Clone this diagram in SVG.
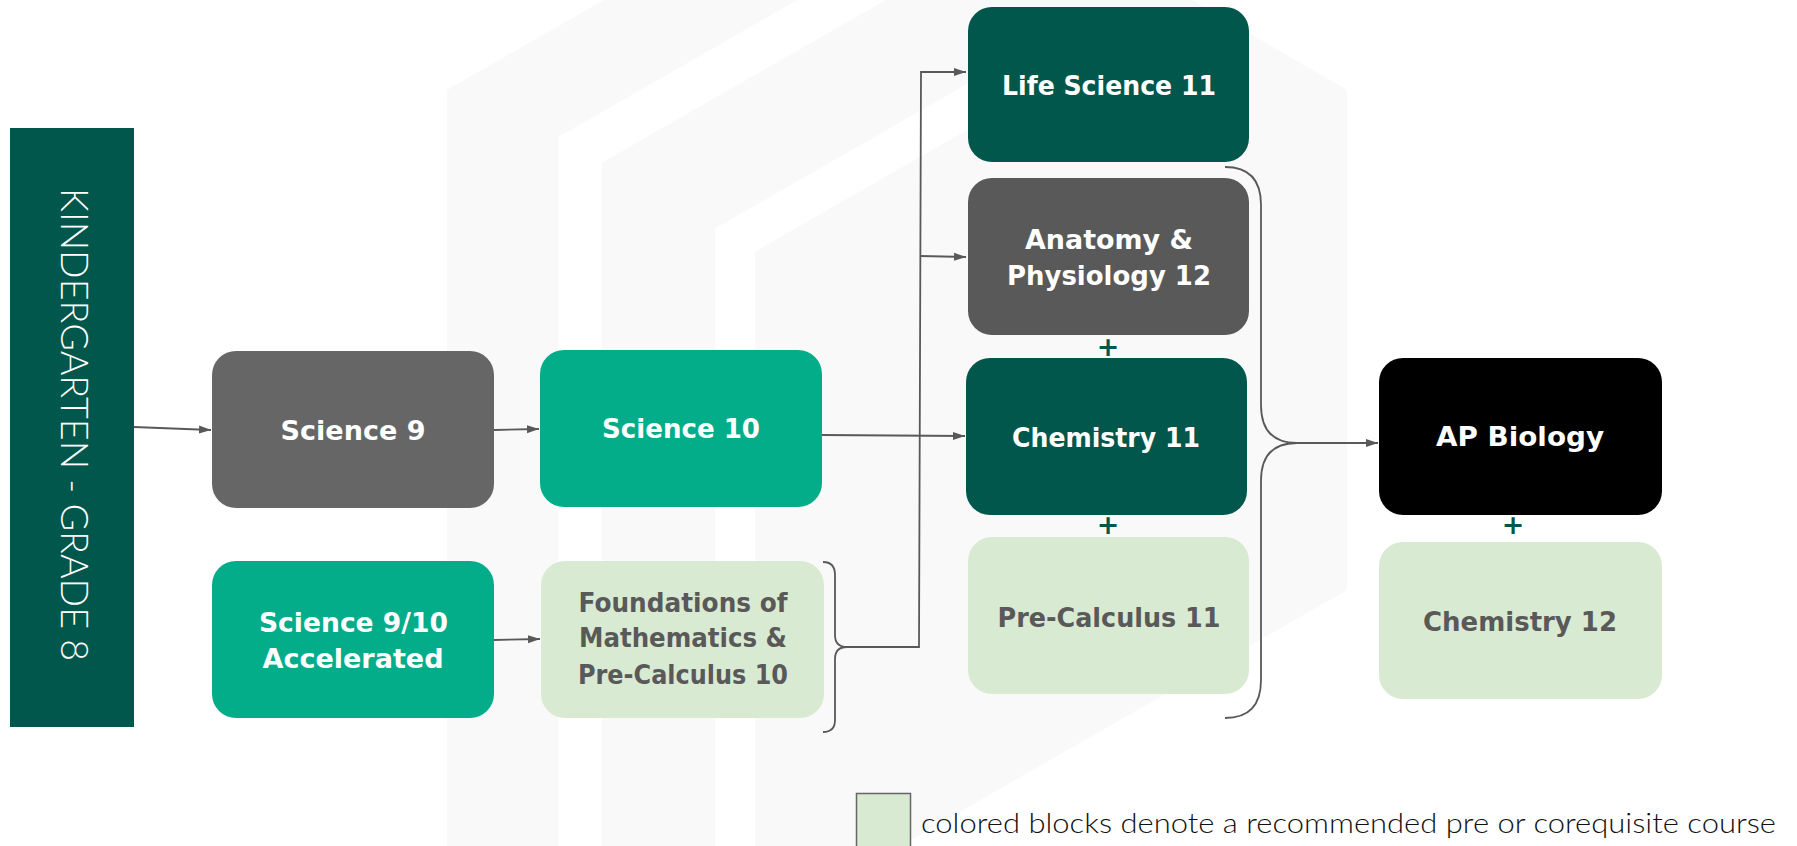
<svg xmlns="http://www.w3.org/2000/svg" width="1797" height="846" viewBox="0 0 1797 846">
<style>
.lbl{font-family:"DejaVu Sans","Liberation Sans",sans-serif;font-weight:bold;font-size:27px;text-anchor:middle}
.w{fill:#ffffff}
.g{fill:#595959}
.plus{font-family:"DejaVu Sans","Liberation Sans",sans-serif;font-weight:bold;font-size:27px;text-anchor:middle;fill:#01574B}
.conn{fill:none;stroke:#595959;stroke-width:1.8}
.thin{font-family:Lato,"Open Sans","Liberation Sans",sans-serif;font-weight:300}
</style>
<defs>
<marker id="arr" markerWidth="13" markerHeight="10" refX="12" refY="5" orient="auto" markerUnits="userSpaceOnUse">
<path d="M0,1 L12,5 L0,9 z" fill="#595959"/>
</marker>
</defs>
<rect width="1797" height="846" fill="#ffffff"/>
<g id="watermark">
<polygon points="447,90 900,-170 1347,90 1347,590 900,846 447,846" fill="#f9f9f9"/>
<polyline points="580,846 580,150 920,-45" fill="none" stroke="#ffffff" stroke-width="44"/>
<polyline points="735,846 735,240 1110,25" fill="none" stroke="#ffffff" stroke-width="40"/>
</g>
<g id="kg">
<rect x="10" y="128" width="124" height="599" fill="#01574B"/>
<text class="thin" transform="translate(74,424.5) rotate(90)" x="0" y="13.5" font-size="38" fill="#ffffff" text-anchor="middle" textLength="473" lengthAdjust="spacingAndGlyphs">KINDERGARTEN - GRADE 8</text>
</g>
<g id="connectors">
<path class="conn" d="M134,427 L211,430" marker-end="url(#arr)"/>
<path class="conn" d="M494,430 L539,429" marker-end="url(#arr)"/>
<path class="conn" d="M494,640 L540,639" marker-end="url(#arr)"/>
<path class="conn" d="M822,435 L965,436" marker-end="url(#arr)"/>
<path class="conn" d="M823,562 Q835,562 835,575 L835,635 Q835,647 847,647 Q835,647 835,659 L835,720 Q835,732 823,732"/>
<path class="conn" d="M843,647 L919,647 L921,72 L966,72" marker-end="url(#arr)"/>
<path class="conn" d="M920,256 L966,257" marker-end="url(#arr)"/>
<path class="conn" d="M1225,167 Q1261,167 1261,205 L1261,405 Q1261,443 1297,443 Q1261,443 1261,481 L1261,680 Q1261,718 1225,718"/>
<path class="conn" d="M1297,443 L1378,443" marker-end="url(#arr)"/>
</g>
<g id="science9">
<rect x="212" y="351" width="282" height="157" rx="24" fill="#666666"/>
<text class="lbl w" x="353" y="440" textLength="145" lengthAdjust="spacingAndGlyphs">Science 9</text>
</g>
<g id="science10">
<rect x="540" y="350" width="282" height="157" rx="24" fill="#03AD8A"/>
<text class="lbl w" x="681" y="438" textLength="158" lengthAdjust="spacingAndGlyphs">Science 10</text>
</g>
<g id="science910acc">
<rect x="212" y="561" width="282" height="157" rx="24" fill="#03AD8A"/>
<text class="lbl w" x="353.5" y="632" textLength="189" lengthAdjust="spacingAndGlyphs">Science 9/10</text>
<text class="lbl w" x="353" y="668" textLength="181" lengthAdjust="spacingAndGlyphs">Accelerated</text>
</g>
<g id="foundations">
<rect x="541" y="561" width="283" height="157" rx="24" fill="#D9EAD3"/>
<text class="lbl g" x="683" y="612" font-size="25" textLength="209" lengthAdjust="spacingAndGlyphs">Foundations of</text>
<text class="lbl g" x="683" y="647" font-size="25" textLength="208" lengthAdjust="spacingAndGlyphs">Mathematics &amp;</text>
<text class="lbl g" x="683" y="684" font-size="25" textLength="210" lengthAdjust="spacingAndGlyphs">Pre-Calculus 10</text>
</g>
<g id="lifescience11">
<rect x="968" y="7" width="281" height="155" rx="24" fill="#01574B"/>
<text class="lbl w" x="1109" y="95" textLength="214" lengthAdjust="spacingAndGlyphs">Life Science 11</text>
</g>
<g id="anatomy12">
<rect x="968" y="178" width="281" height="157" rx="24" fill="#595959"/>
<text class="lbl w" x="1109" y="249" textLength="168" lengthAdjust="spacingAndGlyphs">Anatomy &amp;</text>
<text class="lbl w" x="1109" y="285" textLength="204" lengthAdjust="spacingAndGlyphs">Physiology 12</text>
</g>
<text class="plus" x="1108" y="356">+</text>
<g id="chemistry11">
<rect x="966" y="358" width="281" height="157" rx="24" fill="#01574B"/>
<text class="lbl w" x="1106" y="447" textLength="188" lengthAdjust="spacingAndGlyphs">Chemistry 11</text>
</g>
<text class="plus" x="1108" y="534">+</text>
<g id="precalc11">
<rect x="968" y="537" width="281" height="157" rx="24" fill="#D9EAD3"/>
<text class="lbl g" x="1109" y="627" textLength="223" lengthAdjust="spacingAndGlyphs">Pre-Calculus 11</text>
</g>
<g id="apbiology">
<rect x="1379" y="358" width="283" height="157" rx="24" fill="#000000"/>
<text class="lbl w" x="1520" y="446" textLength="168" lengthAdjust="spacingAndGlyphs">AP Biology</text>
</g>
<text class="plus" x="1513" y="534">+</text>
<g id="chemistry12">
<rect x="1379" y="542" width="283" height="157" rx="24" fill="#D9EAD3"/>
<text class="lbl g" x="1520" y="631" textLength="194" lengthAdjust="spacingAndGlyphs">Chemistry 12</text>
</g>
<g id="legend">
<rect x="856.5" y="793.5" width="54" height="60" fill="#D9EAD3" stroke="#666666" stroke-width="1.5"/>
<text class="thin" x="921" y="833" font-size="27" fill="#111111" textLength="855" lengthAdjust="spacingAndGlyphs">colored blocks denote a recommended pre or corequisite course</text>
</g>
</svg>
